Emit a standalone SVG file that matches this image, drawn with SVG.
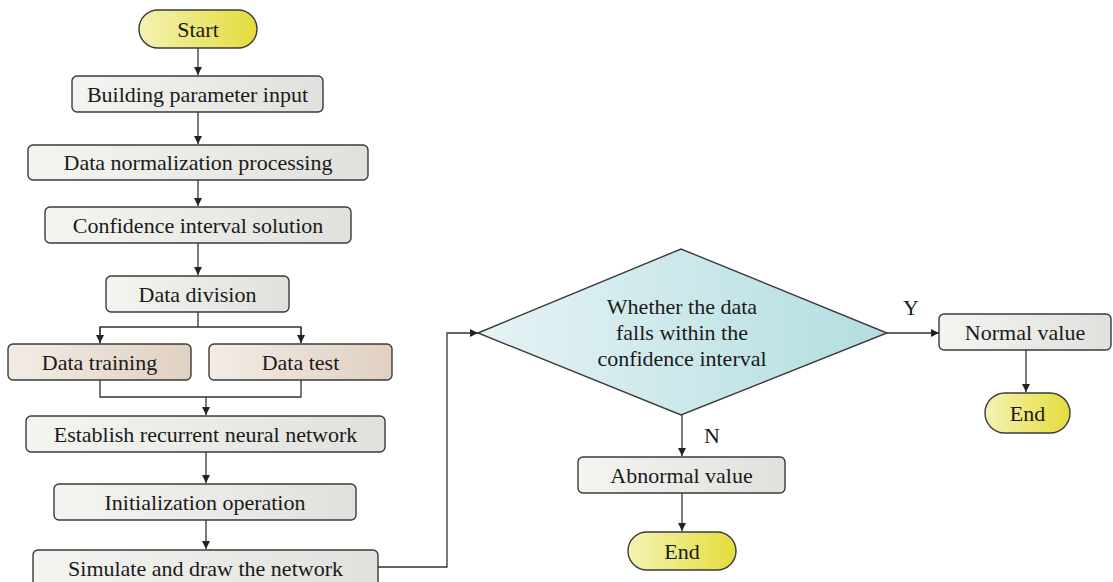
<svg xmlns="http://www.w3.org/2000/svg" width="1113" height="582" viewBox="0 0 1113 582">
<defs>
<linearGradient id="gGray" x1="0" y1="0" x2="1" y2="0"><stop offset="0" stop-color="#f4f4f1"/><stop offset="1" stop-color="#e0e0dc"/></linearGradient>
<linearGradient id="gTan" x1="0" y1="0" x2="1" y2="0"><stop offset="0" stop-color="#f3ece6"/><stop offset="1" stop-color="#e0d0c2"/></linearGradient>
<linearGradient id="gYel" x1="0" y1="0" x2="1" y2="0"><stop offset="0" stop-color="#f4f2b4"/><stop offset="1" stop-color="#e4dc3c"/></linearGradient>
<linearGradient id="gCyan" x1="0" y1="0" x2="1" y2="0"><stop offset="0" stop-color="#e6f3f5"/><stop offset="1" stop-color="#b3dde0"/></linearGradient>
<marker id="arr" markerWidth="10" markerHeight="10" refX="8" refY="4" orient="auto" markerUnits="userSpaceOnUse"><path d="M0,0 L8,4 L0,8 Z" fill="#222"/></marker>
<style>
.box{stroke:#3a3a3a;stroke-width:1.4}
.g{fill:url(#gGray)}
.t{fill:url(#gTan)}
.y{fill:url(#gYel)}
.c{fill:url(#gCyan)}
.tx{font-family:'Liberation Serif','DejaVu Serif',serif;font-size:22px;fill:#1a1a1a;text-anchor:middle}
.ln{fill:none;stroke:#333;stroke-width:1.3}
</style>
</defs>
<g id="connectors">
<path class="ln" d="M198,48 V75" marker-end="url(#arr)"/>
<path class="ln" d="M198,112 V144" marker-end="url(#arr)"/>
<path class="ln" d="M198,180 V206" marker-end="url(#arr)"/>
<path class="ln" d="M198,243 V275" marker-end="url(#arr)"/>
<path class="ln" d="M198,312 V327 M100,343 V327 H301 V343"/>
<path class="ln" d="M100,327 V343" marker-end="url(#arr)"/>
<path class="ln" d="M301,327 V343" marker-end="url(#arr)"/>
<path class="ln" d="M100,380 V397 H301 V380"/>
<path class="ln" d="M206,397 V415" marker-end="url(#arr)"/>
<path class="ln" d="M206,452 V483" marker-end="url(#arr)"/>
<path class="ln" d="M206,520 V549" marker-end="url(#arr)"/>
<path class="ln" d="M378,567 H447 V333 H478" marker-end="url(#arr)"/>
<path class="ln" d="M887,333 H939" marker-end="url(#arr)"/>
<path class="ln" d="M1026,350 V392" marker-end="url(#arr)"/>
<path class="ln" d="M682,415 V456" marker-end="url(#arr)"/>
<path class="ln" d="M682,493 V531" marker-end="url(#arr)"/>
<text class="tx" font-family="Liberation Serif, serif" x="911" y="315">Y</text>
<text class="tx" font-family="Liberation Serif, serif" x="712" y="443">N</text>
</g>
<g id="start"><rect class="box y" x="139" y="10" width="118" height="38" rx="19"/><text class="tx" font-family="Liberation Serif, serif" x="198" y="37">Start</text></g>
<g id="building"><rect class="box g" x="72" y="76" width="251" height="36" rx="5"/><text class="tx" font-family="Liberation Serif, serif" x="197.5" y="102">Building parameter input</text></g>
<g id="normalization"><rect class="box g" x="28" y="145" width="340" height="35" rx="5"/><text class="tx" font-family="Liberation Serif, serif" x="198" y="170">Data normalization processing</text></g>
<g id="confidence"><rect class="box g" x="45" y="207" width="306" height="36" rx="5"/><text class="tx" font-family="Liberation Serif, serif" x="198" y="233">Confidence interval solution</text></g>
<g id="division"><rect class="box g" x="106" y="276" width="183" height="36" rx="5"/><text class="tx" font-family="Liberation Serif, serif" x="197.5" y="302">Data division</text></g>
<g id="training"><rect class="box t" x="8" y="344" width="183" height="36" rx="5"/><text class="tx" font-family="Liberation Serif, serif" x="99.5" y="370">Data training</text></g>
<g id="test"><rect class="box t" x="209" y="344" width="183" height="36" rx="5"/><text class="tx" font-family="Liberation Serif, serif" x="300.5" y="370">Data test</text></g>
<g id="establish"><rect class="box g" x="26" y="416" width="359" height="36" rx="5"/><text class="tx" font-family="Liberation Serif, serif" x="205.5" y="442">Establish recurrent neural network</text></g>
<g id="init"><rect class="box g" x="54" y="484" width="302" height="36" rx="5"/><text class="tx" font-family="Liberation Serif, serif" x="205" y="510">Initialization operation</text></g>
<g id="simulate"><rect class="box g" x="33" y="550" width="345" height="40" rx="5"/><text class="tx" font-family="Liberation Serif, serif" x="205.5" y="576">Simulate and draw the network</text></g>
<g id="decision"><polygon class="box c" points="478,333 681,249 887,333 681,415"/><text class="tx" font-family="Liberation Serif, serif" x="682" y="314">Whether the data</text><text class="tx" font-family="Liberation Serif, serif" x="682" y="340">falls within the</text><text class="tx" font-family="Liberation Serif, serif" x="682" y="366">confidence interval</text></g>
<g id="normal"><rect class="box g" x="939" y="314" width="172" height="36" rx="5"/><text class="tx" font-family="Liberation Serif, serif" x="1025" y="340">Normal value</text></g>
<g id="end1"><rect class="box y" x="985" y="393" width="85" height="40" rx="20"/><text class="tx" font-family="Liberation Serif, serif" x="1027.5" y="421">End</text></g>
<g id="abnormal"><rect class="box g" x="578" y="457" width="207" height="36" rx="5"/><text class="tx" font-family="Liberation Serif, serif" x="681.5" y="483">Abnormal value</text></g>
<g id="end2"><rect class="box y" x="628" y="532" width="108" height="38" rx="19"/><text class="tx" font-family="Liberation Serif, serif" x="682" y="559">End</text></g>
</svg>
